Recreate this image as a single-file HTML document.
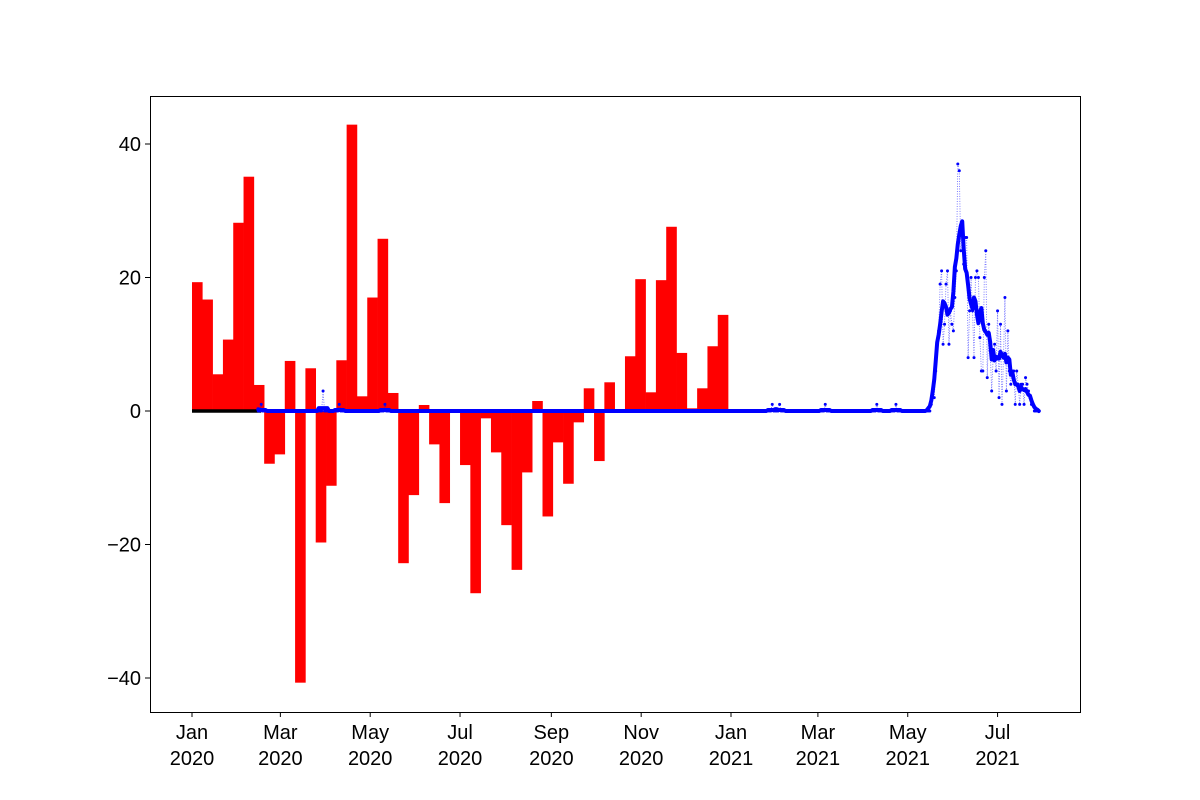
<!DOCTYPE html>
<html><head><meta charset="utf-8">
<style>
html,body{margin:0;padding:0;background:#fff;}
svg{display:block;font-family:"Liberation Sans","DejaVu Sans",sans-serif;}
</style></head>
<body>
<svg id="chart" width="1200" height="800" viewBox="0 0 1200 800" xmlns="http://www.w3.org/2000/svg">
<rect x="0" y="0" width="1200" height="800" fill="#fff"/>
<g id="plot"></g>
<g id="axes"></g>
</svg>
<script>
// weekly bar values starting Jan 1 2020 (one bar per 7 days)
const weeklyValues = [19.3,16.7,5.5,10.7,28.2,35.1,3.9,-7.9,-6.5,7.5,-40.7,6.4,-19.7,-11.2,7.6,42.9,2.2,17.0,25.8,2.7,-22.8,-12.6,0.9,-5.0,-13.8,0,
 -8.1,-27.3,-1.1,-6.2,-17.1,-23.8,-9.2,1.5,-15.8,-4.7,-10.9,-1.7,3.4,-7.5,4.3,0,8.2,19.75,2.8,19.6,27.6,8.7,0.4,3.4,9.7,14.4];
// daily series: day index since Jan 1 2020
const dailyStartDay = 45;
const dailyEndDay = 575;
// sparse non-zero daily values [day, value]
const dailyNonZero = [[47,1],[89,3],[100,1],[131,1],[394,1],[399,1],[430,1],[465,1],[478,1],
 [502,1],[503,2],[504,2],[505,6],[506,10],[507,12],[508,19],[509,21],[510,10],[511,13],[512,19],[513,21],[514,10],[515,15],[516,13],[517,12],[518,17],[519,21],[520,37],[521,36],[522,24],[523,28],[524,22],[525,26],[526,26],[527,8],[528,15],[529,20],[530,15],[531,8],[532,20],[533,21],[534,20],[535,11],[536,6],[537,6],[538,20],[539,24],[540,5],[541,13],[542,9],[543,3],[544,8],[545,10],[546,6],[547,15],[548,2],[549,13],[550,1],[551,8],[552,17],[553,3],[554,12],[555,6],[556,4],[557,6],[558,6],[559,1],[560,6],[561,4],[562,1],[563,4],[564,4],[565,1],[566,5],[567,4],[568,3],[569,2],[570,1],[571,1]];
const blackStartDay = 0, blackEndDay = 47;
const yTicks = [-40,-20,0,20,40];
const xTickDays = [0,60,121,182,244,305,366,425,486,547];
const xTickMonths = ["Jan","Mar","May","Jul","Sep","Nov","Jan","Mar","May","Jul"];
const xTickYears = ["2020","2020","2020","2020","2020","2020","2021","2021","2021","2021"];

const NS="http://www.w3.org/2000/svg";
const PL=150, PR=1080, PT=96, PB=712;
function xs(d){return 192 + d*1.4727;}
function ys(v){return 411 - v*6.675;}
function mk(tag, attrs, parent){const e=document.createElementNS(NS,tag);for(const k in attrs)e.setAttribute(k,attrs[k]);parent.appendChild(e);return e;}
const plot=document.getElementById('plot'), axes=document.getElementById('axes');

weeklyValues.forEach((v,i)=>{
  const x0=xs(i*7), x1=xs(i*7+7);
  const r=mk('rect',{x:x0,y:Math.min(ys(v),ys(0)),width:x1-x0+0.3,height:Math.abs(ys(v)-ys(0)),fill:'#ff0000'},plot);
  
  
});

const bl=mk('line',{x1:xs(blackStartDay),x2:xs(blackEndDay),y1:ys(0),y2:ys(0),stroke:'#000','stroke-width':3.5},plot);



const daily=[];
for(let d=dailyStartDay; d<=dailyEndDay; d++) daily.push(0);
dailyNonZero.forEach(([d,v])=>{daily[d-dailyStartDay]=v;});
const smooth=daily.map((_,i)=>{let s=0,n=0;for(let k=i-3;k<=i+3;k++){if(k>=0&&k<daily.length){s+=daily[k];n++;}}return s/n;});

const rawPts=daily.map((v,i)=>xs(dailyStartDay+i).toFixed(2)+','+ys(v).toFixed(2)).join(' ');
const rl=mk('polyline',{points:rawPts,fill:'none',stroke:'#0000ff','stroke-width':0.9,'stroke-dasharray':'1,1.5','stroke-opacity':0.55},plot);


daily.forEach((v,i)=>{
  const c=mk('circle',{cx:xs(dailyStartDay+i),cy:ys(v),r:1.5,fill:'#0000ff'},plot);
  
  
});
const smPts=smooth.map((v,i)=>xs(dailyStartDay+i).toFixed(2)+','+ys(v).toFixed(2)).join(' ');
const sl=mk('polyline',{points:smPts,fill:'none',stroke:'#0000ff','stroke-width':4,'stroke-linejoin':'round','stroke-linecap':'round'},plot);



const fr=mk('rect',{x:PL+0.5,y:PT+0.5,width:PR-PL,height:PB-PT,fill:'none',stroke:'#000','stroke-width':1},axes);



yTicks.forEach(t=>{
  const y=ys(t);
  const tk=mk('line',{x1:PL-5,x2:PL,y1:y,y2:y,stroke:'#000','stroke-width':1},axes);
  
  
  const tx=mk('text',{x:PL-9,y:y+7,'text-anchor':'end','font-size':20,fill:'#000'},axes);
  tx.textContent=(t<0?'\u2212':'')+Math.abs(t);
  
  
});
xTickDays.forEach((d,i)=>{
  const x=xs(d);
  const tk=mk('line',{x1:x,x2:x,y1:PB,y2:PB+5,stroke:'#000','stroke-width':1},axes);
  
  
  const t1=mk('text',{x:x,y:739,'text-anchor':'middle','font-size':20,fill:'#000'},axes);
  t1.textContent=xTickMonths[i];
  
  
  const t2=mk('text',{x:x,y:765,'text-anchor':'middle','font-size':20,fill:'#000'},axes);
  t2.textContent=xTickYears[i];
  
  
});
</script>
</body></html>
